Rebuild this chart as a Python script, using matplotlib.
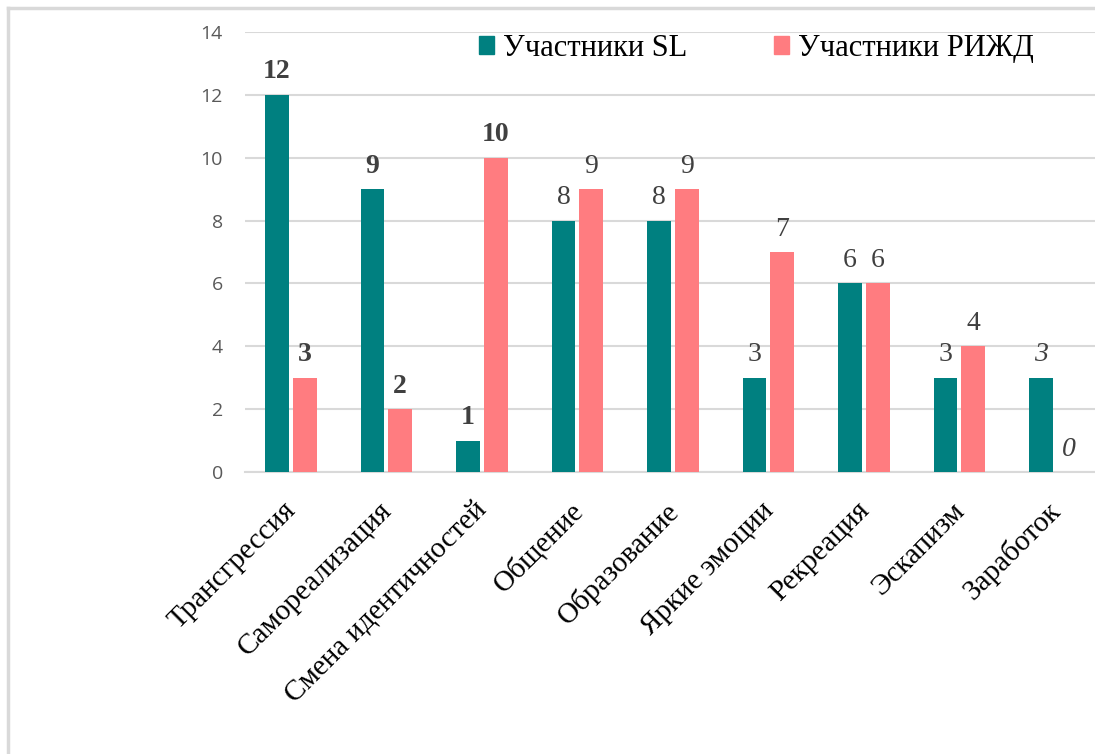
import matplotlib
matplotlib.use("Agg")
import matplotlib.pyplot as plt
import numpy as np
from matplotlib.patches import Patch
from matplotlib.lines import Line2D
from matplotlib.transforms import ScaledTranslation

categories = ["Трансгрессия", "Самореализация", "Смена идентичностей", "Общение",
              "Образование", "Яркие эмоции", "Рекреация", "Эскапизм", "Заработок"]
sl_values = [12, 9, 1, 8, 8, 3, 6, 3, 3]
rizhd_values = [3, 2, 10, 9, 9, 7, 6, 4, 0]
series_names = ["Участники SL", "Участники РИЖД"]
y_ticks = [0, 2, 4, 6, 8, 10, 12, 14]
# label styles per bar
sl_styles = ["bold", "bold", "bold", "normal", "normal", "normal", "normal", "normal", "italic"]
rizhd_styles = ["bold", "bold", "bold", "normal", "normal", "normal", "normal", "normal", "italic"]

teal = "#008080"
pink = "#FF7C80"
grid_c = "#D9D9D9"
lab_c = "#404040"
serif = ["Liberation Serif", "DejaVu Serif"]

W, H = 1095, 754
fig = plt.figure(figsize=(W / 100, H / 100), dpi=100)
ax = fig.add_axes([245 / W, 1 - 472 / H, 1 - 245 / W, (472 - 32) / H])

x = np.arange(len(categories))
bw = 0.25
off = 0.145
ax.bar(x - off, sl_values, bw, color=teal, zorder=3)
ax.bar(x + off, rizhd_values, bw, color=pink, zorder=3)

def style_kw(s):
    if s == "bold":
        return dict(fontweight="bold", fontstyle="normal")
    if s == "italic":
        return dict(fontweight="normal", fontstyle="italic")
    return dict(fontweight="normal", fontstyle="normal")

for xs, vals, styles in ((x - off, sl_values, sl_styles), (x + off, rizhd_values, rizhd_styles)):
    for xi, v, s in zip(xs, vals, styles):
        ax.annotate(str(v), (xi, v), xytext=(0, 7.5), textcoords="offset points",
                    ha="center", va="bottom", fontsize=20, color=lab_c, family=serif,
                    **style_kw(s))

ax.set_ylim(0, 14)
ax.set_xlim(-0.48, 8.42)
ax.set_yticks(y_ticks)
ax.set_yticklabels([str(t) for t in y_ticks], fontsize=14, color="#595959",
                   family=["Open Sans", "DejaVu Sans"])
ax.tick_params(axis="y", length=0, pad=16)
ax.tick_params(axis="x", length=0, pad=16)
ax.set_xticks(x)
ax.set_xticklabels(categories, rotation=45, ha="right", rotation_mode="anchor",
                   fontsize=21, family=serif, color="#000000")
shift = ScaledTranslation(-8 / 100, -3 / 100, fig.dpi_scale_trans)
for lbl in ax.get_xticklabels():
    lbl.set_transform(lbl.get_transform() + shift)
ax.yaxis.grid(True, color=grid_c, linewidth=1.5, zorder=0)
for sp in ["top", "right", "left"]:
    ax.spines[sp].set_visible(False)
ax.spines["bottom"].set_color(grid_c)
ax.spines["bottom"].set_linewidth(1.5)

handles = [Patch(facecolor=teal, edgecolor=teal), Patch(facecolor=pink, edgecolor=pink)]
fig.legend(handles, series_names, loc="upper left", bbox_to_anchor=(479 / W, 1 - 34 / H),
           ncol=2, frameon=False, borderpad=0, borderaxespad=0,
           handlelength=0.5, handleheight=0.5, handletextpad=0.28, columnspacing=2.85,
           prop={"family": serif, "size": 22})

# outer border (left and top visible)
fig.add_artist(Line2D([8 / W, 8 / W], [0, 1 - 8 / H], color=grid_c, linewidth=2.5,
                      transform=fig.transFigure))
fig.add_artist(Line2D([8 / W, 1], [1 - 8 / H, 1 - 8 / H], color=grid_c, linewidth=2.5,
                      transform=fig.transFigure))

fig.savefig("out.png", dpi=100)
